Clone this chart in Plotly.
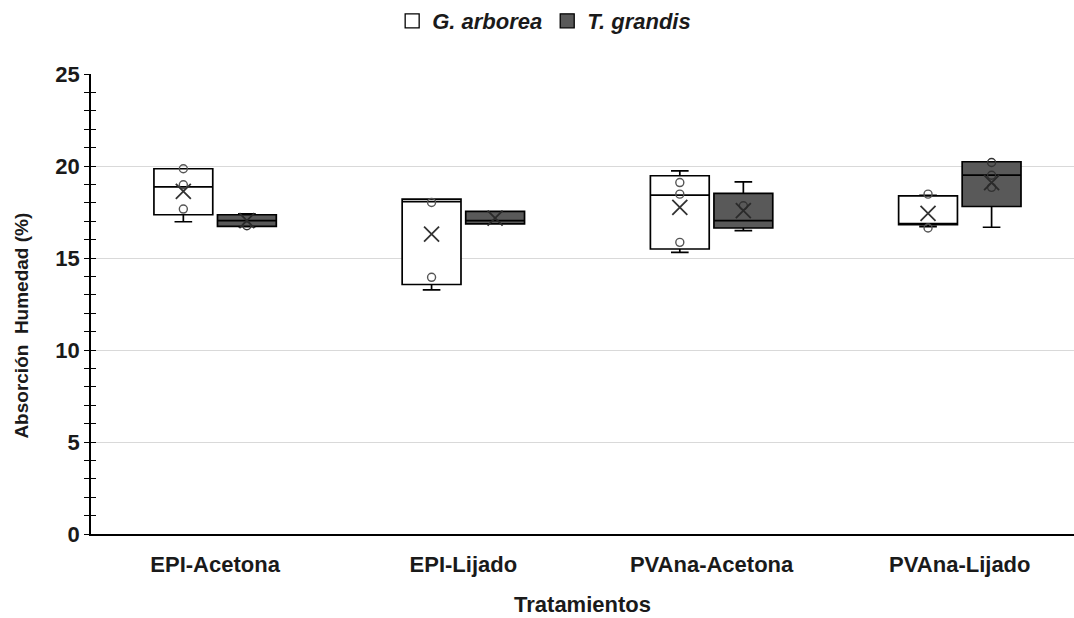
import plotly.graph_objects as go

categories = ["EPI-Acetona", "EPI-Lijado", "PVAna-Acetona", "PVAna-Lijado"]
species = ["G. arborea", "T. grandis"]

# G. arborea box statistics
ga_q1 = [17.35, 13.56, 15.49, 16.81]
ga_median = [18.87, 18.06, 18.42, 16.81]
ga_q3 = [19.85, 18.20, 19.47, 18.38]
ga_low = [16.97, 13.27, 15.31, 16.70]
ga_high = [19.85, 18.20, 19.74, 18.40]
ga_mean = [18.62, 16.30, 17.75, 17.42]
ga_points = [[19.85, 18.98, 17.66], [18.02, 13.95], [19.10, 18.47, 15.85], [18.47, 16.63]]

# T. grandis box statistics
tg_q1 = [16.72, 16.85, 16.63, 17.80]
tg_median = [17.03, 17.03, 17.03, 19.50]
tg_q3 = [17.35, 17.53, 18.51, 20.23]
tg_low = [16.70, 16.85, 16.49, 16.67]
tg_high = [17.40, 17.53, 19.14, 20.23]
tg_mean = [17.03, 17.17, 17.57, 19.10]
tg_points = [[16.75], [], [17.84], [20.19, 19.50, 18.84]]

y_ticks = [0, 5, 10, 15, 20, 25]

OFF = 0.128
BW = 0.237
FONT = "Liberation Sans, Arial, sans-serif"
DARK = "#595959"

fig = go.Figure()

series = [
    (species[0], -OFF, "white", ga_q1, ga_median, ga_q3, ga_low, ga_high, ga_mean, ga_points, "#555555", "#333333"),
    (species[1], OFF, DARK, tg_q1, tg_median, tg_q3, tg_low, tg_high, tg_mean, tg_points, "#333333", "#2a2a2a"),
]

for name, off, fill, q1, med, q3, lo, hi, mean, pts, ptcol, xcol in series:
    xs = [i + off for i in range(len(categories))]
    fig.add_trace(go.Box(
        x=xs, q1=q1, median=med, q3=q3, lowerfence=lo, upperfence=hi,
        width=BW, whiskerwidth=0.3, fillcolor=fill,
        line=dict(color="black", width=1.7), boxpoints=False,
        showlegend=False, hoverinfo="skip", name=name,
    ))
    px, py = [], []
    for i, p in enumerate(pts):
        for v in p:
            px.append(i + off)
            py.append(v)
    fig.add_trace(go.Scatter(
        x=px, y=py, mode="markers", showlegend=False, hoverinfo="skip",
        marker=dict(symbol="circle-open", size=8, color=ptcol, line=dict(width=1.4, color=ptcol)),
    ))
    fig.add_trace(go.Scatter(
        x=xs, y=mean, mode="markers", showlegend=False, hoverinfo="skip",
        marker=dict(symbol="x-thin-open", size=15, color=xcol, line=dict(width=1.8, color=xcol)),
    ))
    fig.add_trace(go.Scatter(
        x=[None], y=[None], mode="markers", name=f"<b><i>{name}</i></b>",
        marker=dict(symbol="square", size=14, color=fill, line=dict(width=1.3, color="black")),
    ))

fig.add_trace(go.Scatter(x=[None], y=[None], yaxis="y2", showlegend=False, hoverinfo="skip"))

fig.update_layout(
    width=1074, height=618,
    margin=dict(l=91, r=0, t=73, b=84),
    paper_bgcolor="white", plot_bgcolor="white",
    font=dict(family=FONT, color="#1a1a1a"),
    boxmode="overlay",
    legend=dict(orientation="h", x=0.461, xanchor="center", y=1.115, yanchor="middle",
                font=dict(size=22, family=FONT, color="#1a1a1a"), itemwidth=30,
                tracegroupgap=0),
    xaxis=dict(
        range=[-0.5, 3.46], tickmode="array", tickvals=list(range(len(categories))),
        ticktext=[f"<b>{c}</b>" for c in categories], tickfont=dict(size=22),
        showgrid=False, zeroline=False, showline=True, linecolor="black", linewidth=1.5,
        ticks="", ticklabelstandoff=10,
        title=dict(text="<b>Tratamientos</b>", font=dict(size=22), standoff=20),
    ),
    yaxis=dict(
        range=[0, 25], tickmode="array", tickvals=y_ticks,
        ticktext=[f"<b>{t}</b>" for t in y_ticks], tickfont=dict(size=22),
        showgrid=True, gridcolor="#d9d9d9", gridwidth=1, zeroline=False,
        showline=True, linecolor="black", linewidth=1.5,
        ticks="outside", ticklen=5, tickwidth=1.3, tickcolor="black",
        minor=dict(dtick=1, ticks="outside", ticklen=5, tickwidth=1.3, tickcolor="black", showgrid=False),
    ),
    yaxis2=dict(
        range=[0, 25], overlaying="y", side="left", tickmode="array", tickvals=y_ticks,
        showticklabels=False, showgrid=False, zeroline=False, showline=False,
        ticks="inside", ticklen=5, tickwidth=1.3, tickcolor="black",
        minor=dict(dtick=1, ticks="inside", ticklen=5, tickwidth=1.3, tickcolor="black", showgrid=False),
    ),
    annotations=[dict(
        text="<b>Absorción  Humedad (%)</b>", textangle=-90, showarrow=False,
        xref="paper", yref="paper", x=-0.0702, y=0.453, xanchor="center", yanchor="middle",
        font=dict(size=19, family=FONT, color="#1a1a1a"),
    )],
)

fig.write_html("out.html")
